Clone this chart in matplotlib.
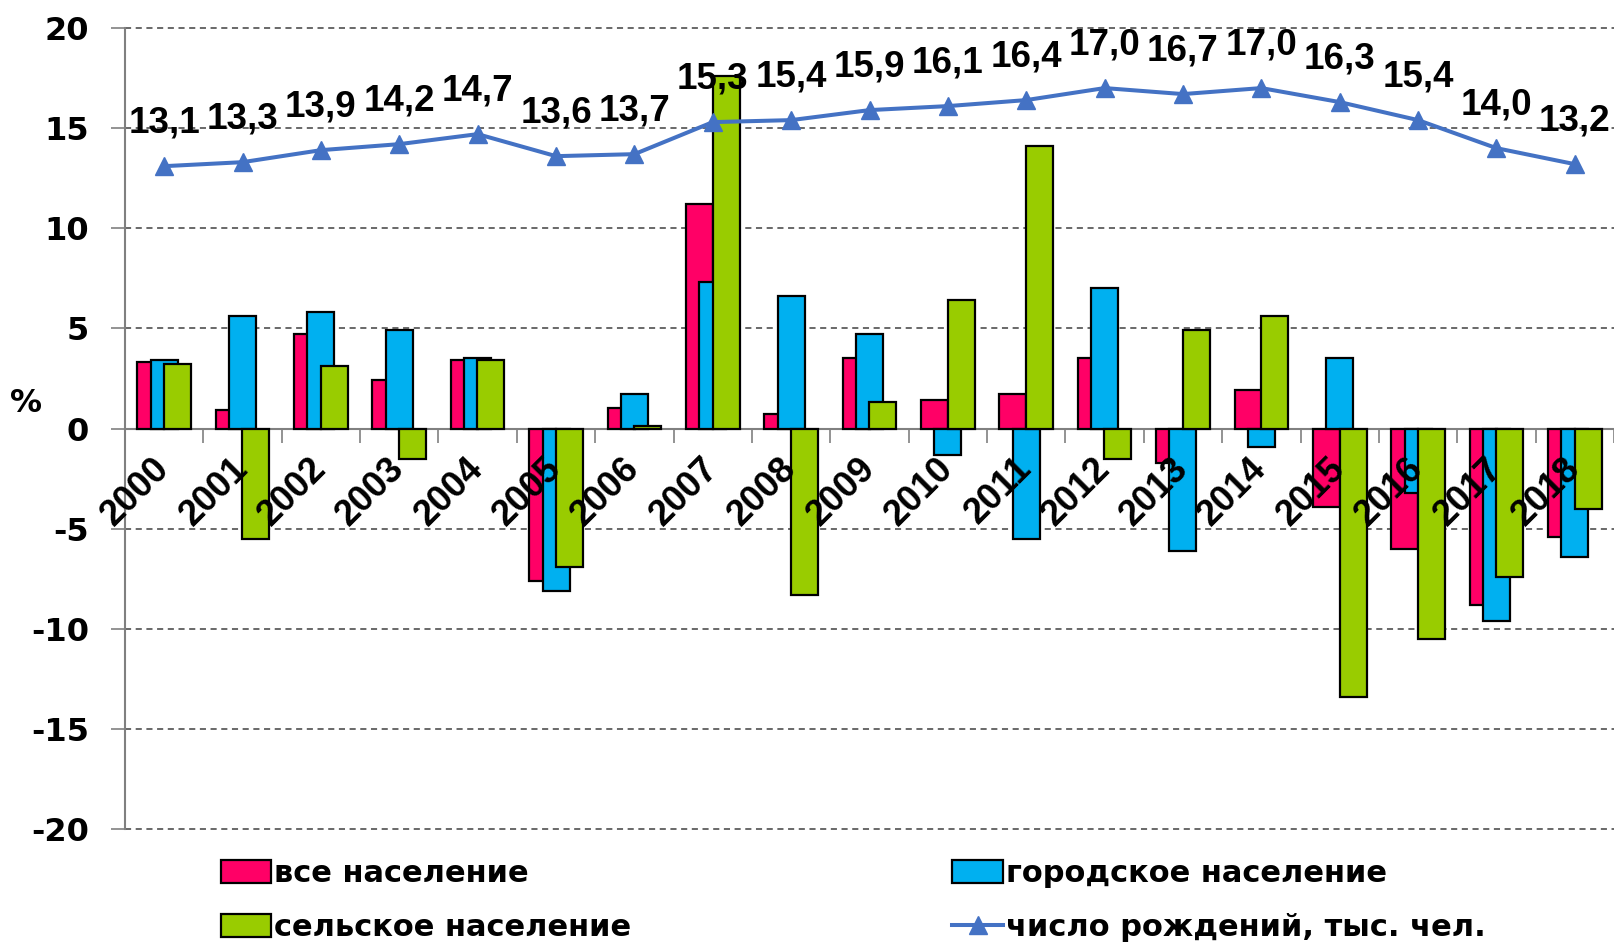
import matplotlib
matplotlib.use("Agg")
import matplotlib.pyplot as plt
import numpy as np
from matplotlib.ticker import FixedLocator

years = [str(y) for y in range(2000, 2019)]
all_pop = [3.3, 0.9, 4.7, 2.4, 3.4, -7.6, 1.0, 11.2, 0.7, 3.5, 1.4, 1.7, 3.5, -1.7, 1.9, -3.9, -6.0, -8.8, -5.4]
urban_pop = [3.4, 5.6, 5.8, 4.9, 3.5, -8.1, 1.7, 7.3, 6.6, 4.7, -1.3, -5.5, 7.0, -6.1, -0.9, 3.5, -3.2, -9.6, -6.4]
rural_pop = [3.2, -5.5, 3.1, -1.5, 3.4, -6.9, 0.1, 17.6, -8.3, 1.3, 6.4, 14.1, -1.5, 4.9, 5.6, -13.4, -10.5, -7.4, -4.0]
births = [13.1, 13.3, 13.9, 14.2, 14.7, 13.6, 13.7, 15.3, 15.4, 15.9, 16.1, 16.4, 17.0, 16.7, 17.0, 16.3, 15.4, 14.0, 13.2]
yticks = [20, 15, 10, 5, 0, -5, -10, -15, -20]

names = ["все население", "городское население", "сельское население", "число рождений, тыс. чел."]
colors = ["#FF0066", "#00B0F0", "#99CC00"]
line_color = "#4472C4"

plt.rcParams['font.family'] = ['DejaVu Sans']
plt.rcParams['font.weight'] = 'bold'
num_font = ['Liberation Sans', 'DejaVu Sans']

fig = plt.figure(figsize=(16.14, 9.46), dpi=100)
ax = fig.add_axes([125/1614, 1-829/946, 1-125/1614, (829-28)/946])

x = np.arange(len(years))
bw = 0.345
off = 0.17
bars = []
for k, (vals, c) in enumerate(zip([all_pop, urban_pop, rural_pop], colors)):
    b = ax.bar(x + (k-1)*off, vals, width=bw, color=c, edgecolor='black', linewidth=1.6, zorder=3+k)
    bars.append(b)

ln, = ax.plot(x, births, color=line_color, lw=2.9, marker='^', markersize=13, zorder=8)
for xi, v in zip(x, births):
    ax.annotate(f"{v:.1f}".replace('.', ','), (xi, v), xytext=(0, 24), textcoords='offset points',
                ha='center', va='baseline', fontsize=26.5, fontweight='bold', family=num_font, zorder=9)

ax.set_xlim(-0.5, len(years)-0.5)
ax.set_ylim(-20, 20)
for yv in yticks:
    if yv != 0:
        ax.axhline(yv, color='#404040', lw=1.1, ls=(0, (4, 3)), zorder=1, clip_on=False)

for s in ['top', 'right']:
    ax.spines[s].set_visible(False)
ax.spines['bottom'].set_position(('data', 0))
ax.spines['bottom'].set_color('#808080')
ax.spines['bottom'].set_linewidth(1.5)
ax.spines['left'].set_color('#808080')
ax.spines['left'].set_linewidth(1.5)
ax.spines['bottom'].set_zorder(2)

ax.set_yticks(yticks)
ax.set_yticklabels([str(t) for t in yticks], fontsize=23, fontweight='bold')
ax.tick_params(axis='y', length=10, width=1.2, color='#808080', pad=16)

ax.set_xticks(x)
ax.set_xticklabels(years, rotation=45, ha='right', va='center', rotation_mode='anchor',
                   fontsize=26, fontweight='bold', family=num_font)
ax.tick_params(axis='x', which='major', length=0, pad=25)
ax.xaxis.set_minor_locator(FixedLocator(np.arange(0.5, len(years), 1.0)))
ax.tick_params(axis='x', which='minor', length=10, width=1.2, color='#808080', direction='out')
ax.xaxis.set_zorder(10)

fig.text(26/1614, 1-403/946, '%', ha='center', va='center', fontsize=23, fontweight='bold')

handles = [bars[0], bars[2], bars[1], ln]
labels = [names[0], names[2], names[1], names[3]]
fig.legend(handles, labels, loc='upper left', bbox_to_anchor=(221/1614, 1-859/946), ncol=2,
           frameon=False, prop={'weight': 'bold', 'size': 22}, borderpad=0, borderaxespad=0,
           handlelength=1.65, handleheight=0.8, handletextpad=0.1, columnspacing=10.5, labelspacing=0.82)

fig.savefig('out.png', dpi=100)
